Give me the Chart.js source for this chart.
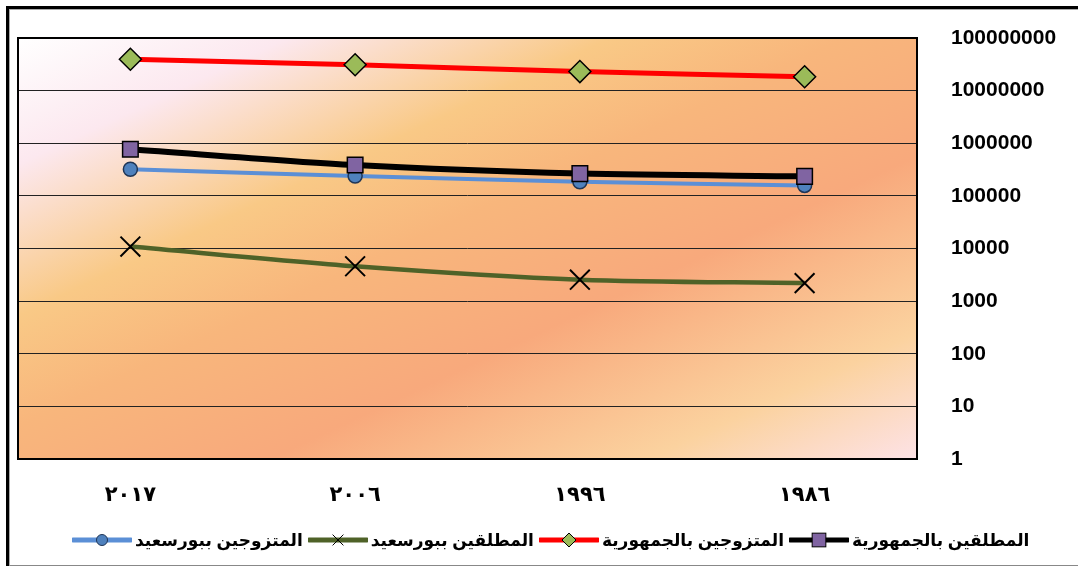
<!DOCTYPE html>
<html lang="ar">
<head>
<meta charset="utf-8">
<script src="https://cdn.jsdelivr.net/npm/chart.js@4/dist/chart.umd.min.js"></script>
<style>
  html, body { margin: 0; padding: 0; background: #fff; width: 1078px; height: 566px; overflow: hidden; }
  #frameOuter { position: absolute; left: 6px; top: 6px; width: 1100px; height: 557px; border-left: 3px solid #000; border-top: 3px solid #000; }
  #frameInner { position: absolute; left: 9px; top: 9px; width: 1100px; height: 555px; border-left: 1px solid #aaa; border-top: 1px solid #aaa; border-bottom: 1px solid #888; }
  #wrap { position: absolute; left: 0; top: 0; width: 1078px; height: 566px; }
  #legend { position: absolute; left: 72px; top: 527px; height: 26px; display: flex; flex-direction: row; align-items: center; direction: ltr; }
  .item { display: flex; flex-direction: row; align-items: center; margin-right: 5px; }
  .item span { font: bold 17px "Liberation Sans", "DejaVu Sans", sans-serif; color: #000; direction: rtl; white-space: nowrap; margin-left: 3px; }
</style>
</head>
<body>
<div id="frameOuter"></div>
<div id="frameInner"></div>
<div id="wrap"><canvas id="c" width="1078" height="566"></canvas></div>
<div id="legend"></div>
<script>
// ---- data ----
const categories = ['٢٠١٧', '٢٠٠٦', '١٩٩٦', '١٩٨٦'];
const marriedPortSaid = [320000, 238000, 185000, 158000];
const divorcedPortSaid = [10900, 4600, 2550, 2200];
const marriedEgypt = [39500000, 31000000, 23000000, 18300000];
const divorcedEgypt = [770000, 385000, 265000, 235000];
const seriesNames = ['المتزوجين ببورسعيد', 'المطلقين ببورسعيد', 'المتزوجين بالجمهورية', 'المطلقين بالجمهورية'];
const yTicks = [1, 10, 100, 1000, 10000, 100000, 1000000, 10000000, 100000000];
const yTickLabels = ['1', '10', '100', '1000', '10000', '100000', '1000000', '10000000', '100000000'];

// ---- styles ----
const styles = [
  { line: '#5b8fd6', width: 4, point: 'circle', radius: 7, fill: '#4f81bd', border: '#1f3556', pbw: 1.5, order: 2, lr: 5.5 },
  { line: '#4f6228', width: 4.5, point: 'crossRot', radius: 14, fill: '#000', border: '#000', pbw: 2, order: 3, lr: 9 },
  { line: '#ff0000', width: 5, point: 'rectRot', radius: 11, fill: '#9bbb59', border: '#000', pbw: 1.5, order: 0, lr: 7 },
  { line: '#000000', width: 6, point: 'rect', radius: 11, fill: '#8064a2', border: '#000', pbw: 1.5, order: 1, lr: 9.5 }
];
const seriesData = [marriedPortSaid, divorcedPortSaid, marriedEgypt, divorcedEgypt];

const datasets = seriesData.map((d, i) => ({
  label: seriesNames[i],
  data: d,
  borderColor: styles[i].line,
  borderWidth: styles[i].width,
  pointStyle: styles[i].point,
  pointRadius: styles[i].radius,
  pointBackgroundColor: styles[i].fill,
  pointBorderColor: styles[i].border,
  pointBorderWidth: styles[i].pbw,
  tension: 0.3,
  order: styles[i].order,
  fill: false
}));

const bgPlugin = {
  id: 'bg',
  beforeDraw(chart) {
    const { ctx, chartArea: a } = chart;
    const W = a.right - a.left, H = a.bottom - a.top;
    const len = Math.hypot(W, H);
    const ux = H / len, uy = W / len;
    const dist = (2 * W * H) / len;
    const g = ctx.createLinearGradient(a.left, a.top, a.left + ux * dist, a.top + uy * dist);
    g.addColorStop(0, '#ffffff');
    g.addColorStop(0.15, '#fce8ef');
    g.addColorStop(0.33, '#f9c986');
    g.addColorStop(0.46, '#f8b67c');
    g.addColorStop(0.64, '#f8a97c');
    g.addColorStop(0.85, '#fbd29f');
    g.addColorStop(1, '#fde2e6');
    ctx.save();
    ctx.fillStyle = g;
    ctx.fillRect(a.left, a.top, W, H);
    ctx.restore();
  },
  beforeDatasetsDraw(chart) {
    const { ctx, chartArea: a } = chart;
    ctx.save();
    ctx.strokeStyle = '#000';
    ctx.lineWidth = 2;
    ctx.strokeRect(a.left, a.top, a.right - a.left, a.bottom - a.top);
    ctx.restore();
  }
};

new Chart(document.getElementById('c'), {
  type: 'line',
  data: { labels: categories, datasets },
  options: {
    responsive: false,
    animation: false,
    devicePixelRatio: 1,
    layout: { padding: { left: 18, top: 38, right: 0, bottom: 0 } },
    plugins: { legend: { display: false }, tooltip: { enabled: false } },
    scales: {
      x: {
        type: 'category',
        offset: true,
        grid: { display: false },
        border: { display: false },
        ticks: { color: '#000', font: { family: '"DejaVu Sans", sans-serif', weight: 'bold', size: 21 }, padding: 16, maxRotation: 0 },
        afterFit(s) { s.height = 107; s.paddingLeft = 0; s.paddingRight = 0; }
      },
      y: {
        type: 'logarithmic',
        position: 'right',
        min: 1,
        max: 100000000,
        afterBuildTicks(s) { s.ticks = yTicks.map(v => ({ value: v, major: false })); },
        grid: { color: '#222', lineWidth: 1, drawTicks: false },
        border: { display: false },
        ticks: {
          autoSkip: false,
          color: '#000',
          padding: 34,
          font: { family: '"Liberation Sans", Arial, sans-serif', weight: 'bold', size: 21 },
          callback: (v) => yTickLabels[yTicks.indexOf(v)]
        },
        afterFit(s) { s.width = 161; s.paddingTop = 0; s.paddingBottom = 0; }
      }
    }
  },
  plugins: [bgPlugin]
});

// ---- HTML legend (visual order left->right) ----
const legendOrder = [0, 1, 2, 3];
const legend = document.getElementById('legend');
function markerSvg(st) {
  const cx = 30, cy = 10;
  let m = '';
  if (st.point === 'circle') m = `<circle cx="${cx}" cy="${cy}" r="${st.lr}" fill="${st.fill}" stroke="${st.border}" stroke-width="1"/>`;
  else if (st.point === 'crossRot') { const r = st.lr * 0.6; m = `<path d="M${cx - r} ${cy - r}L${cx + r} ${cy + r}M${cx + r} ${cy - r}L${cx - r} ${cy + r}" stroke="#000" stroke-width="1"/>`; }
  else if (st.point === 'rectRot') { const r = st.lr; m = `<path d="M${cx} ${cy - r}L${cx + r} ${cy}L${cx} ${cy + r}L${cx - r} ${cy}Z" fill="${st.fill}" stroke="#000" stroke-width="1"/>`; }
  else { const r = st.lr * 0.72; m = `<rect x="${cx - r}" y="${cy - r}" width="${2 * r}" height="${2 * r}" fill="${st.fill}" stroke="#000" stroke-width="1"/>`; }
  return `<svg width="60" height="20" viewBox="0 0 60 20"><line x1="1" y1="10" x2="59" y2="10" stroke="${st.line}" stroke-width="5" stroke-linecap="round"/>${m}</svg>`;
}
legendOrder.forEach(i => {
  const d = document.createElement('div');
  d.className = 'item';
  d.innerHTML = markerSvg(styles[i]) + `<span>${seriesNames[i]}</span>`;
  legend.appendChild(d);
});
</script>
</body>
</html>
